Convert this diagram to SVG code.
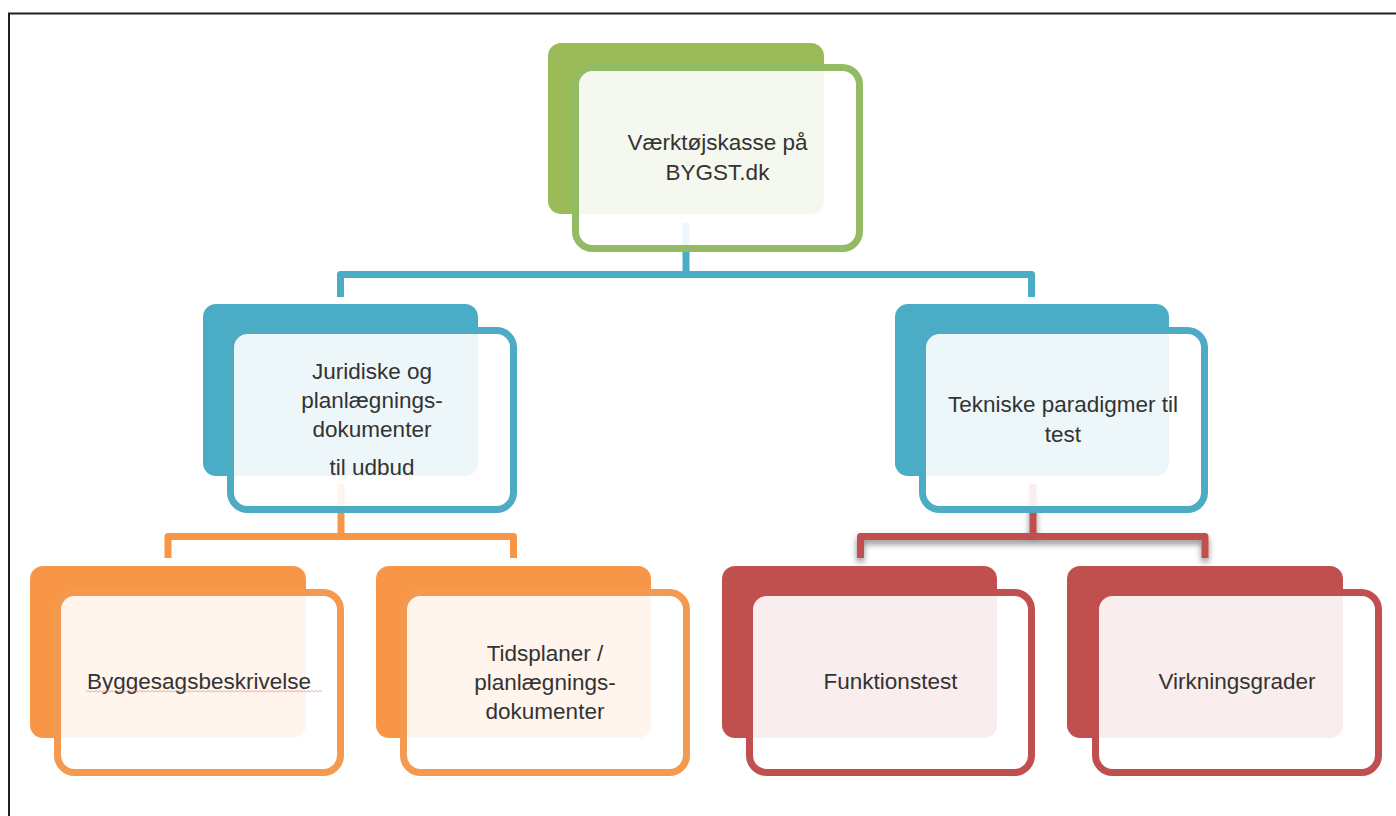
<svg xmlns="http://www.w3.org/2000/svg" width="1396" height="816" viewBox="0 0 1396 816">
<defs>
<style>
.txt{font-family:"Liberation Sans",Arial,sans-serif;font-size:22.5px;fill:#333333;text-anchor:middle}
.panel{fill:#ffffff;fill-opacity:0.9;stroke-width:7}
.conn{fill:none;stroke-width:7;stroke-linejoin:round}
.g .base{fill:#9BBB59}.g .panel{stroke:#93BB64}
.b .base{fill:#4BACC6}.b .panel{stroke:#4DACC4}
.o .base{fill:#F79646}.o .panel{stroke:#F39A50}
.r .base{fill:#C0504D}.r .panel{stroke:#C0504F}
</style>
<filter id="sh" x="-10%" y="-50%" width="120%" height="200%">
<feDropShadow dx="0" dy="4" stdDeviation="3" flood-color="#000" flood-opacity="0.45"/>
</filter>
</defs>
<rect width="1396" height="816" fill="#ffffff"/>
<path d="M9,816 V13.5 H1396" fill="none" stroke="#231F20" stroke-width="2"/>

<g id="connectors">
<path class="conn" stroke="#4BACC6" d="M686,223 V274.5"/>
<path class="conn" stroke="#4BACC6" d="M340.5,297 V274.5 H1031.5 V297"/>
<path class="conn" stroke="#F79646" d="M341,484 V536.5"/>
<path class="conn" stroke="#F79646" d="M168,558 V536.5 H513.5 V558"/>
<g filter="url(#sh)">
<path class="conn" stroke="#C0504D" d="M1033,484 V536.5"/>
<path class="conn" stroke="#C0504D" d="M860.5,558 V536.5 H1205 V558"/>
</g>
</g>

<g id="node-root" class="g">
<rect class="base" x="548" y="43" width="276" height="171" rx="13"/>
<rect class="panel" x="575.5" y="67.5" width="284" height="181" rx="17"/>
<text class="txt" x="717.5" y="150">Værktøjskasse på</text>
<text class="txt" x="717.5" y="180">BYGST.dk</text>
</g>

<g id="node-juridiske" class="b">
<rect class="base" x="203" y="304" width="275" height="172" rx="13"/>
<rect class="panel" x="230.5" y="330.5" width="283" height="179" rx="17"/>
<text class="txt" x="372" y="379">Juridiske og</text>
<text class="txt" x="372" y="408">planlægnings-</text>
<text class="txt" x="372" y="437">dokumenter</text>
<text class="txt" x="372" y="475">til udbud</text>
</g>

<g id="node-tekniske" class="b">
<rect class="base" x="895" y="304" width="274" height="172" rx="13"/>
<rect class="panel" x="922.5" y="330.5" width="282" height="179" rx="17"/>
<text class="txt" x="1063" y="412">Tekniske paradigmer til</text>
<text class="txt" x="1063" y="442">test</text>
</g>

<g id="node-byggesag" class="o">
<rect class="base" x="30" y="566" width="276" height="172" rx="13"/>
<rect class="panel" x="57.5" y="592.5" width="283" height="180" rx="17"/>
<text class="txt" x="199" y="689">Byggesagsbeskrivelse</text>
<path d="M86,692 l2,-1.5 l2,1.5 l2,-1.5 l2,1.5 l2,-1.5 l2,1.5 l2,-1.5 l2,1.5 l2,-1.5 l2,1.5 l2,-1.5 l2,1.5 l2,-1.5 l2,1.5 l2,-1.5 l2,1.5 l2,-1.5 l2,1.5 l2,-1.5 l2,1.5 l2,-1.5 l2,1.5 l2,-1.5 l2,1.5 l2,-1.5 l2,1.5 l2,-1.5 l2,1.5 l2,-1.5 l2,1.5 l2,-1.5 l2,1.5 l2,-1.5 l2,1.5 l2,-1.5 l2,1.5 l2,-1.5 l2,1.5 l2,-1.5 l2,1.5 l2,-1.5 l2,1.5 l2,-1.5 l2,1.5 l2,-1.5 l2,1.5 l2,-1.5 l2,1.5 l2,-1.5 l2,1.5 l2,-1.5 l2,1.5 l2,-1.5 l2,1.5 l2,-1.5 l2,1.5 l2,-1.5 l2,1.5 l2,-1.5 l2,1.5 l2,-1.5 l2,1.5 l2,-1.5 l2,1.5 l2,-1.5 l2,1.5 l2,-1.5 l2,1.5 l2,-1.5 l2,1.5 l2,-1.5 l2,1.5 l2,-1.5 l2,1.5 l2,-1.5 l2,1.5 l2,-1.5 l2,1.5 l2,-1.5 l2,1.5 l2,-1.5 l2,1.5 l2,-1.5 l2,1.5 l2,-1.5 l2,1.5 l2,-1.5 l2,1.5 l2,-1.5 l2,1.5 l2,-1.5 l2,1.5 l2,-1.5 l2,1.5 l2,-1.5 l2,1.5 l2,-1.5 l2,1.5 l2,-1.5 l2,1.5 l2,-1.5 l2,1.5 l2,-1.5 l2,1.5 l2,-1.5 l2,1.5 l2,-1.5 l2,1.5 l2,-1.5 l2,1.5 l2,-1.5 l2,1.5 l2,-1.5 l2,1.5 l2,-1.5 l2,1.5 l2,-1.5 l2,1.5" fill="none" stroke="#E87070" stroke-width="0.8" opacity="0.7"/>
</g>

<g id="node-tidsplaner" class="o">
<rect class="base" x="376" y="566" width="275" height="172" rx="13"/>
<rect class="panel" x="403.5" y="592.5" width="283" height="180" rx="17"/>
<text class="txt" x="545" y="661">Tidsplaner /</text>
<text class="txt" x="545" y="690">planlægnings-</text>
<text class="txt" x="545" y="719">dokumenter</text>
</g>

<g id="node-funktionstest" class="r">
<rect class="base" x="722" y="566" width="275" height="172" rx="13"/>
<rect class="panel" x="749.5" y="592.5" width="282" height="180" rx="17"/>
<text class="txt" x="890.5" y="689">Funktionstest</text>
</g>

<g id="node-virkningsgrader" class="r">
<rect class="base" x="1067" y="566" width="276" height="172" rx="13"/>
<rect class="panel" x="1095.5" y="592.5" width="283" height="180" rx="17"/>
<text class="txt" x="1237" y="689">Virkningsgrader</text>
</g>
</svg>
